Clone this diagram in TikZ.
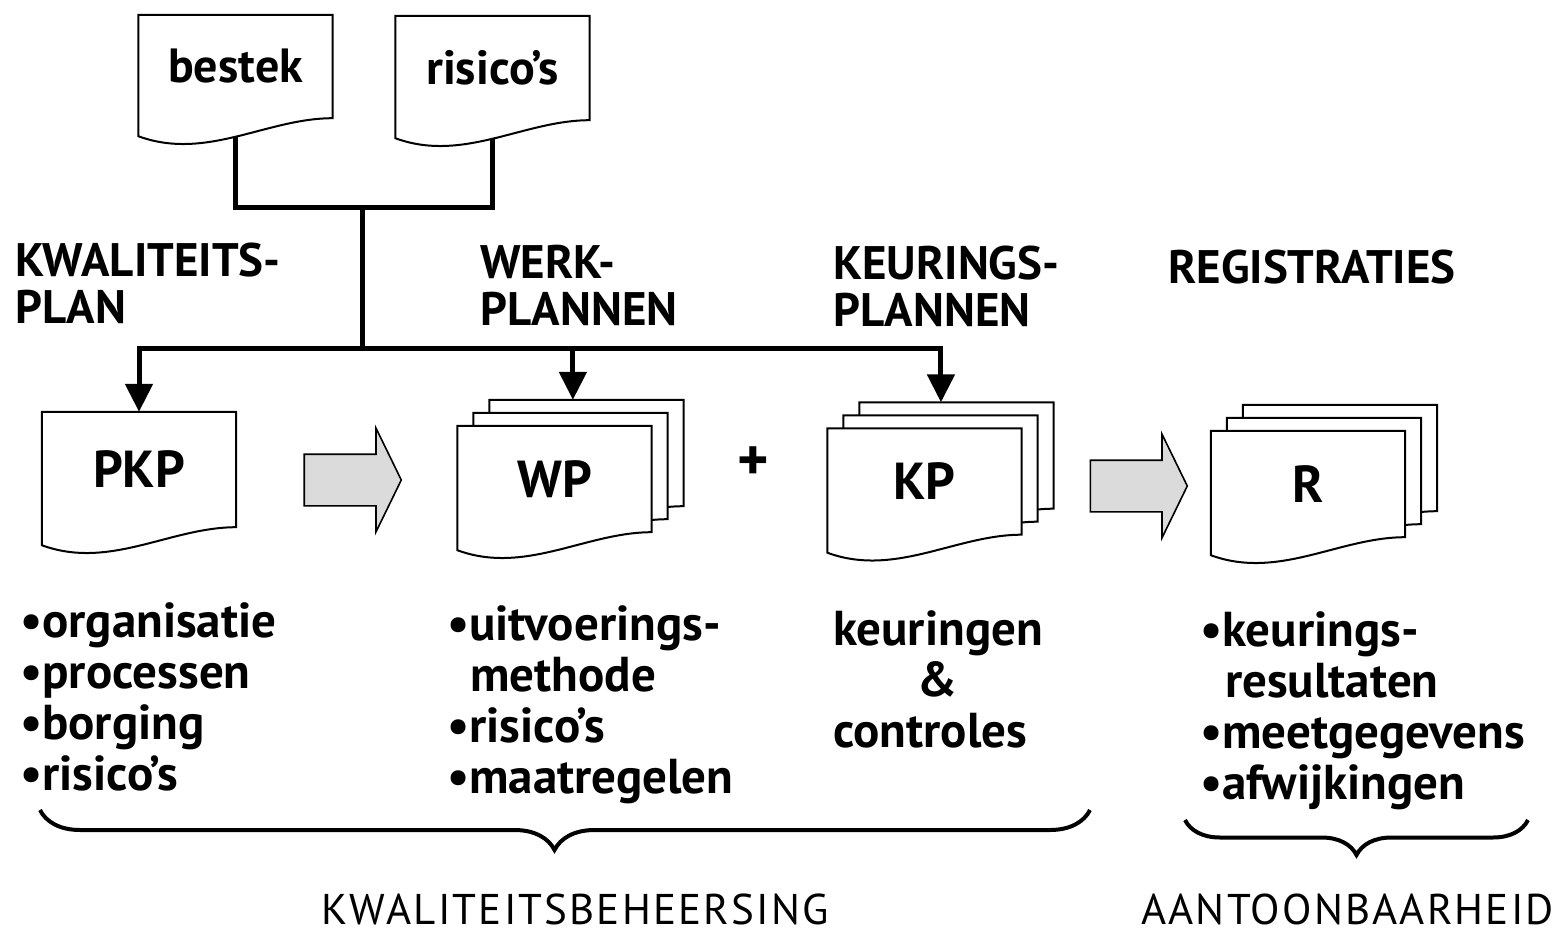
\documentclass[tikz,border=0pt]{standalone}
\usepackage{fontspec}
\setmainfont{PT Sans}
\usetikzlibrary{arrows.meta,positioning,calc,decorations.pathreplacing,shapes.arrows,backgrounds}
\tikzset{
  lijn/.style={line width=5pt},
  pijl/.style={line width=5pt,-{Triangle[length=28pt,width=27pt]}},
  blad/.style={rectangle,inner sep=0pt,minimum width=194pt,minimum height=106pt,
    font=\fontsize{52}{60}\selectfont\bfseries},
  kop/.style={anchor=base west,align=left,inner sep=0pt,
    font=\fontsize{47}{42}\selectfont\bfseries},
  lijst/.style={anchor=base west,align=left,inner sep=0pt,
    font=\fontsize{49}{51}\selectfont\bfseries},
  dik/.style={single arrow,draw,line width=1.6pt,fill=gray!28,inner xsep=0pt,inner ysep=25pt,
    minimum height=97pt,single arrow head extend=26pt,single arrow tip angle=128},
  klamp/.style={decorate,decoration={brace,mirror},line width=4pt},
  onder/.style={anchor=base,inner sep=0pt,font=\fontsize{43}{43}\selectfont\addfontfeatures{LetterSpace=5}},
}
% document outline with wavy bottom
\newcommand\bladrand[1]{%
  \draw[line width=2pt,fill=white] (#1.north west) -- (#1.north east) -- (#1.south east)
    .. controls ($(#1.south east)+(-66,0)$) and ($(#1.south west)+(68,43)$)
    .. ($(#1.south west)+(0,18)$) -- cycle;}

\begin{document}
\begin{tikzpicture}[x=1pt,y=-1pt]
  \useasboundingbox (0,0) rectangle (1555,934);

  % inputs
  \node[blad,minimum height=103pt,font=\fontsize{48}{50}\selectfont\bfseries]
    (bestek) at (235.5,66.5) {bestek};
  \node[blad,minimum height=104pt,font=\fontsize{48}{50}\selectfont\bfseries]
    (risico) at (492.5,68) {risico’s};

  % plans
  \node[blad,minimum height=115pt] (pkp) at (139,469.5) {PKP};
  \node[blad] (wp) at (554.5,479) {WP};
  \node[blad] (wp2) at ($(wp)+(16,-13)$) {};
  \node[blad] (wp3) at ($(wp)+(32,-26)$) {};
  \node[blad] (kp) at (924.5,481.5) {KP};
  \node[blad] (kp2) at ($(kp)+(16,-13)$) {};
  \node[blad] (kp3) at ($(kp)+(32,-26)$) {};
  \node[blad] (r) at (1308,484) {R};
  \node[blad] (r2) at ($(r)+(16,-13)$) {};
  \node[blad] (r3) at ($(r)+(32,-26)$) {};

  \node[font=\fontsize{60}{60}\selectfont\bfseries,inner sep=0pt] (plus) at (753,464) {+};
  \node[dik] (pijl1) at (346.5,480) {};
  \node[dik] (pijl2) at (1132.5,486) {};

  % headings
  \node[kop] (kopkp) at (15,323) {KWALITEITS-\\[5pt]PLAN};
  \node[kop] (kopwp) at (480,325) {WERK-\\[5pt]PLANNEN};
  \node[kop] (kopkeur) at (833,326) {KEURINGS-\\[5pt]PLANNEN};
  \node[kop] (kopreg) at (1168,283) {REGISTRATIES};

  % lists
  \node[lijst] (lijstpkp) at (20,790) {•organisatie\\•processen\\•borging\\•risico’s};
  \node[lijst] (lijstwp) at (447,793) {•uitvoerings-\\\hspace*{23pt}methode\\•risico’s\\•maatregelen};
  \node[lijst] (lijstkp) at (833,747) {keuringen\\\hspace*{84pt}\&\\controles};
  \node[lijst] (lijstr) at (1200,799) {•keurings-\\\hspace*{25pt}resultaten\\•meetgegevens\\•afwijkingen};

  % braces
  \coordinate (kb1) at (40,810);
  \coordinate (kb2) at (1090,810);
  \coordinate (ab1) at (1185,820);
  \coordinate (ab2) at (1528,820);
  \draw[klamp,decoration={amplitude=40pt,aspect=0.49}] (kb1) -- (kb2);
  \draw[klamp,decoration={amplitude=35pt}] (ab1) -- (ab2);
  \node[onder] (kb) at (575,924) {KWALITEITSBEHEERSING};
  \node[onder,anchor=base east] (ab) at (1554,924) {AANTOONBAARHEID};

  \begin{pgfonlayer}{background}
    \coordinate (samen) at (362,207);
    \coordinate (splits) at (362,348);
    \draw[lijn] (bestek.south) |- (samen) -| (risico.south);
    \draw[lijn] (samen) -- (splits);
    \draw[pijl] (splits) -| (pkp.north);
    \draw[pijl] (splits) -| ($(wp3.north west)!0.43!(wp3.north east)$);
    \draw[pijl] (splits) -| ($(kp3.north west)!0.42!(kp3.north east)$);
    \foreach \b in {bestek,risico,pkp,wp3,wp2,wp,kp3,kp2,kp,r3,r2,r}
      \bladrand{\b};
  \end{pgfonlayer}
\end{tikzpicture}
\end{document}
